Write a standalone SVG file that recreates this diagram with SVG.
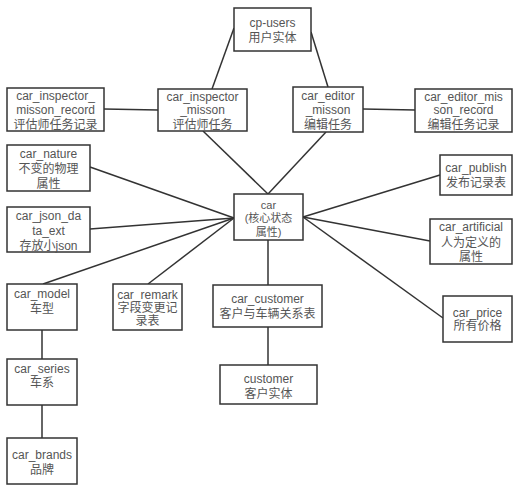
<svg xmlns="http://www.w3.org/2000/svg" width="522" height="491" viewBox="0 0 522 491">
<style>
rect{fill:#fff;stroke:#333;stroke-width:1.5}
text{font-family:"Liberation Sans","Noto Sans CJK SC",sans-serif;font-size:12px;fill:#555;text-anchor:middle}
.s{font-size:11px}
#connectors line{stroke:#333;stroke-width:1.5}
</style>
<rect x="0" y="0" width="522" height="491" style="fill:#fff;stroke:none"/>
<g id="connectors">
<line x1="234" y1="28" x2="212" y2="89"/>
<line x1="311" y1="32" x2="328" y2="87"/>
<line x1="104" y1="109" x2="158" y2="110"/>
<line x1="363" y1="109" x2="415" y2="110"/>
<line x1="203" y1="131" x2="268" y2="194"/>
<line x1="326" y1="132" x2="268" y2="194"/>
<line x1="234" y1="218" x2="90" y2="167"/>
<line x1="234" y1="218" x2="90" y2="229"/>
<line x1="234" y1="218" x2="43" y2="284"/>
<line x1="234" y1="218" x2="148" y2="284"/>
<line x1="268" y1="240" x2="268" y2="285"/>
<line x1="268" y1="327" x2="268" y2="365"/>
<line x1="303" y1="217" x2="440" y2="175"/>
<line x1="303" y1="217" x2="430" y2="241"/>
<line x1="303" y1="217" x2="443" y2="318"/>
<line x1="42" y1="330" x2="42" y2="359"/>
<line x1="42" y1="405" x2="42" y2="438"/>
</g>
<g id="cp-users"><rect x="234" y="8" width="77" height="43"/><text x="272.5" y="27">cp-users</text><text x="272.5" y="41.5">用户实体</text></g>
<g id="car_inspector_misson_record"><rect x="7" y="88" width="97" height="43"/><text x="55.5" y="99.5">car_inspector_</text><text x="55.5" y="114">misson_record</text><text x="55.5" y="129">评估师任务记录</text></g>
<g id="car_inspector_misson"><rect x="158" y="89" width="89" height="42"/><text x="202.5" y="101">car_inspector</text><text x="202.5" y="114">_misson</text><text x="202.5" y="129">评估师任务</text></g>
<g id="car_editor_misson"><rect x="293" y="87" width="70" height="45"/><text x="328" y="99.5">car_editor</text><text x="328" y="114">_misson</text><text x="328" y="129">编辑任务</text></g>
<g id="car_editor_misson_record"><rect x="415" y="89" width="97" height="43"/><text x="463.5" y="101">car_editor_mis</text><text x="463.5" y="114">son_record</text><text x="463.5" y="129">编辑任务记录</text></g>
<g id="car_nature"><rect x="7" y="145" width="83" height="46"/><text x="48.5" y="158">car_nature</text><text x="48.5" y="172.5">不变的物理</text><text x="48.5" y="187.5">属性</text></g>
<g id="car_json_data_ext"><rect x="7" y="207" width="83" height="45"/><text x="48.5" y="220">car_json_da</text><text x="48.5" y="235">ta_ext</text><text x="48.5" y="249.5">存放小json</text></g>
<g id="car"><rect x="234" y="194" width="69" height="46"/><text class="s" x="268.5" y="209">car</text><text class="s" x="268.5" y="222">(核心状态</text><text class="s" x="268.5" y="236">属性)</text></g>
<g id="car_publish"><rect x="440" y="155" width="72" height="40"/><text x="476" y="172">car_publish</text><text x="476" y="186.5">发布记录表</text></g>
<g id="car_artificial"><rect x="430" y="219" width="82" height="45"/><text x="471" y="231">car_artificial</text><text x="471" y="246.5">人为定义的</text><text x="471" y="261">属性</text></g>
<g id="car_model"><rect x="7" y="284" width="70" height="46"/><text x="42" y="298">car_model</text><text x="42" y="312.5">车型</text></g>
<g id="car_remark"><rect x="113" y="284" width="69" height="46"/><text x="147.5" y="299">car_remark</text><text x="147.5" y="311.5">字段变更记</text><text x="147.5" y="325">录表</text></g>
<g id="car_customer"><rect x="213" y="285" width="109" height="42"/><text x="267.5" y="303">car_customer</text><text x="267.5" y="317.5">客户与车辆关系表</text></g>
<g id="customer"><rect x="220" y="365" width="97" height="39"/><text x="268.5" y="383">customer</text><text x="268.5" y="397.5">客户实体</text></g>
<g id="car_price"><rect x="443" y="296" width="69" height="46"/><text x="477.5" y="317">car_price</text><text x="477.5" y="329.5">所有价格</text></g>
<g id="car_series"><rect x="7" y="359" width="70" height="46"/><text x="42" y="373">car_series</text><text x="42" y="386.5">车系</text></g>
<g id="car_brands"><rect x="7" y="438" width="70" height="46"/><text x="42" y="459">car_brands</text><text x="42" y="473.5">品牌</text></g>
</svg>
